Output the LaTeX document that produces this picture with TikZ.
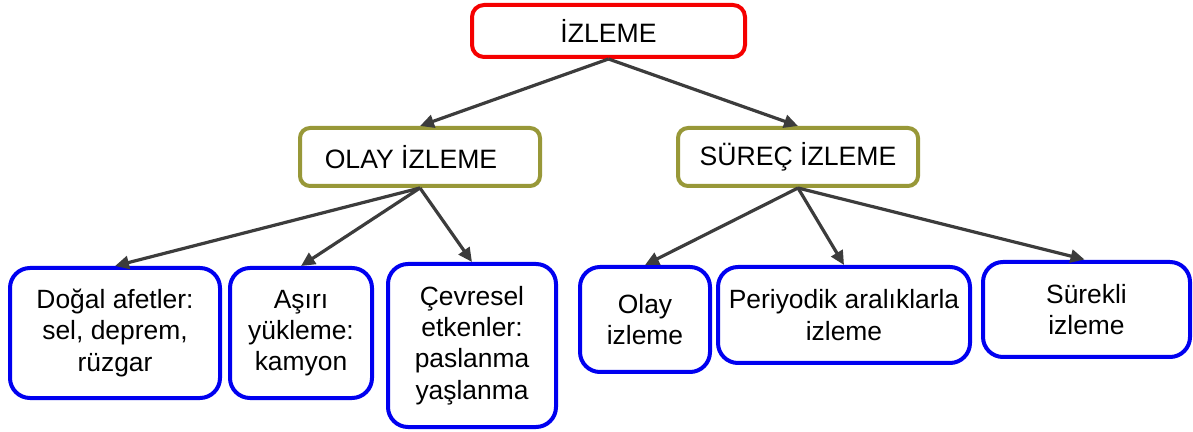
\documentclass[tikz,border=0pt]{standalone}
\usepackage{fontspec}
\setmainfont{Liberation Sans}
\usetikzlibrary{arrows.meta}
\definecolor{topred}{RGB}{245,0,0}
\definecolor{midolive}{RGB}{152,152,56}
\definecolor{leafblue}{RGB}{0,0,240}
\definecolor{linkgray}{RGB}{60,60,60}
\begin{document}
\begin{tikzpicture}[x=0.5pt,y=-0.5pt,
    every node/.append style={line width=2pt,align=center,inner sep=0pt,
      font=\fontsize{13.2}{15.6}\selectfont},
    topbox/.style={draw=topred,rounded corners=6pt,minimum width=136.5pt,minimum height=26pt,
      font=\fontsize{13.3}{16}\selectfont},
    midbox/.style={draw=midolive,rounded corners=5pt,minimum width=120pt,minimum height=29pt,
      font=\fontsize{13.3}{16}\selectfont},
    leafbox/.style={draw=leafblue,rounded corners=10pt},
    link/.style={-{Triangle[length=7pt,width=6.5pt]},line width=1.6pt,draw=linkgray}]
      \useasboundingbox (0,0) rectangle (1193,432);

      \node[topbox] (Izleme) at (608.5,31) {İZLEME};

      \node[midbox] (Olay) at (420,157) {OLAY İZLEME\hspace*{9pt}};
      \node[midbox] (Surec) at (798,157) {SÜREÇ İZLEME};

      \node[leafbox,minimum width=105pt,minimum height=65pt] (Dogal) at (115,333) {Doğal afetler:\\sel, deprem,\\rüzgar};
      \node[leafbox,minimum width=71pt,minimum height=65pt] (Asiri) at (301,333) {Aşırı\\yükleme:\\kamyon};
      \node[leafbox,minimum width=84pt,minimum height=81.5pt] (Cevre) at (472,345.5) {Çevresel\\etkenler:\\paslanma\\yaşlanma};
      \node[leafbox,minimum width=65pt,minimum height=52.5pt] (OlayIz) at (645,319.5) {Olay\\izleme};
      \node[leafbox,minimum width=126pt,minimum height=48pt] (Periyot) at (844,315) {Periyodik aralıklarla\\izleme};
      \node[leafbox,minimum width=103.5pt,minimum height=47.5pt] (Surekli) at (1086.5,309.5) {Sürekli\\izleme};

      \draw [link] (Izleme.south)--(Olay.north);
      \draw [link] (Izleme.south)--(Surec.north);

      \draw [link] (Olay.south)--(Dogal.north);
      \draw [link] (Olay.south)--(Asiri.north);
      \draw [link] (Olay.south)--(Cevre.north);

      \draw [link] (Surec.south)--(OlayIz.north);
      \draw [link] (Surec.south)--(Periyot.north);
      \draw [link,shorten >=1pt] (Surec.south)--(Surekli.north);
    \end{tikzpicture}
\end{document}
